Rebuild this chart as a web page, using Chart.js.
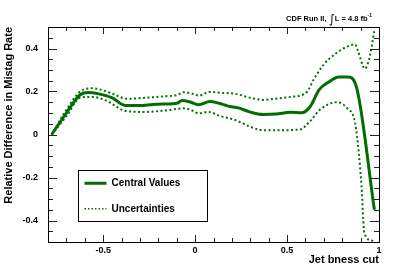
<!DOCTYPE html>
<html>
<head>
<meta charset="utf-8">
<script src="https://cdn.jsdelivr.net/npm/chart.js@4.4.1/dist/chart.umd.min.js"></script>
<style>
  html, body { margin: 0; padding: 0; background: #fff; }
  #wrap { width: 399px; height: 270px; }
</style>
</head>
<body>
<div id="wrap"><canvas id="mistagChart"></canvas></div>
<script>
// values (x = jet bness cut, y = relative difference)
const centralX = [-0.78, -0.7, -0.625, -0.58, -0.53, -0.45, -0.38, -0.3, -0.23, -0.16, -0.1, -0.07, -0.03, 0.02, 0.08, 0.13, 0.18, 0.235, 0.3, 0.37, 0.44, 0.52, 0.58, 0.625, 0.675, 0.725, 0.78, 0.83, 0.875, 0.975];
const centralY = [0, 0.1, 0.185, 0.195, 0.19, 0.17, 0.135, 0.135, 0.14, 0.142, 0.145, 0.158, 0.152, 0.138, 0.153, 0.145, 0.132, 0.124, 0.104, 0.093, 0.095, 0.104, 0.101, 0.129, 0.209, 0.243, 0.268, 0.268, 0.228, -0.35];

const upperX = [-0.78, -0.7, -0.625, -0.56, -0.52, -0.45, -0.37, -0.27, -0.16, -0.1, -0.06, -0.02, 0.02, 0.08, 0.14, 0.22, 0.3, 0.37, 0.45, 0.52, 0.57, 0.61, 0.645, 0.7, 0.77, 0.83, 0.87, 0.885, 0.924, 0.95, 0.975];
const upperY = [0, 0.115, 0.2, 0.215, 0.21, 0.19, 0.166, 0.171, 0.178, 0.183, 0.197, 0.191, 0.181, 0.198, 0.194, 0.189, 0.171, 0.161, 0.168, 0.175, 0.181, 0.2, 0.256, 0.326, 0.38, 0.41, 0.419, 0.39, 0.306, 0.364, 0.485];

const lowerX = [-0.78, -0.7, -0.625, -0.56, -0.49, -0.37, -0.27, -0.16, -0.06, -0.02, 0.02, 0.07, 0.14, 0.22, 0.3, 0.37, 0.45, 0.57, 0.625, 0.68, 0.77, 0.825, 0.87, 0.89, 0.905, 0.92, 0.96, 0.975];
const lowerY = [0, 0.085, 0.171, 0.175, 0.16, 0.108, 0.105, 0.112, 0.122, 0.113, 0.098, 0.105, 0.085, 0.067, 0.036, 0.02, 0.02, 0.023, 0.062, 0.116, 0.15, 0.124, 0.054, -0.085, -0.24, -0.457, -0.493, -0.5];

const xMajor = 0.5, xMinor = 0.1;
const yMajor = 0.2, yMinor = 0.05;

const green = 'rgb(0,110,0)';
const FONT = '"Liberation Sans", Arial, Helvetica, sans-serif';

function pts(xs, ys) {
    return xs.map((x, i) => ({ x: x, y: ys[i] }));
}

// only label the multiples of the major step, like ROOT does
function majorTicks(step) {
    return s => {
        const out = [];
        for (let k = Math.ceil(s.min / step - 1e-9); k * step <= s.max + 1e-9; k++) {
            out.push({ value: +(k * step).toFixed(6) });
        }
        s.ticks = out;
    };
}

// ROOT style frame with ticks pointing inwards on all four sides
const frameTicks = {
    id: 'frameTicks',
    afterDatasetsDraw(chart) {
        const { ctx, chartArea: a, scales: { x, y } } = chart;
        ctx.save();
        ctx.strokeStyle = '#222';
        ctx.lineWidth = 1;
        ctx.beginPath();
        const nx = Math.round((x.max - x.min) / xMinor);
        for (let i = 0; i <= nx; i++) {
            const v = x.min + i * xMinor;
            const big = Math.abs(v / xMajor - Math.round(v / xMajor)) < 1e-6;
            const len = big ? 7 : 4;
            const px = Math.round(x.getPixelForValue(v)) + 0.5;
            ctx.moveTo(px, a.bottom); ctx.lineTo(px, a.bottom - len);
            ctx.moveTo(px, a.top); ctx.lineTo(px, a.top + len);
        }
        const ny = Math.round((y.max - y.min) / yMinor);
        for (let i = 0; i <= ny; i++) {
            const v = y.min + i * yMinor;
            const big = Math.abs(v / yMajor - Math.round(v / yMajor)) < 1e-6;
            const len = big ? 9 : 5;
            const py = Math.round(y.getPixelForValue(v)) + 0.5;
            ctx.moveTo(a.left, py); ctx.lineTo(a.left + len, py);
            ctx.moveTo(a.right, py); ctx.lineTo(a.right - len, py);
        }
        ctx.stroke();
        ctx.strokeStyle = '#000';
        ctx.strokeRect(Math.round(a.left) + 0.5, Math.round(a.top) + 0.5,
            Math.round(a.right - a.left), Math.round(a.bottom - a.top));
        ctx.restore();
    }
};

// legend box inside the frame, placed in axis units
const boxLegend = {
    id: 'boxLegend',
    afterDraw(chart, args, opts) {
        const { ctx, scales: { x, y } } = chart;
        const l = Math.round(x.getPixelForValue(opts.x0)) + 0.5;
        const r = Math.round(x.getPixelForValue(opts.x1)) + 0.5;
        const t = Math.round(y.getPixelForValue(opts.y1)) + 0.5;
        const b = Math.round(y.getPixelForValue(opts.y0)) + 0.5;
        ctx.save();
        ctx.fillStyle = '#fff';
        ctx.fillRect(l, t, r - l, b - t);
        ctx.strokeStyle = '#000';
        ctx.lineWidth = 1;
        ctx.strokeRect(l, t, r - l, b - t);
        const rows = [chart.data.datasets[0], chart.data.datasets[1]];
        const step = (b - t) / rows.length;
        rows.forEach((ds, i) => {
            const cy = t + step * (i + 0.5);
            ctx.beginPath();
            ctx.strokeStyle = ds.borderColor;
            ctx.lineWidth = i === 0 ? 3 : 1.5;
            ctx.setLineDash(i === 0 ? [] : [1.5, 2]);
            ctx.moveTo(l + 6, cy);
            ctx.lineTo(l + 28, cy);
            ctx.stroke();
            ctx.setLineDash([]);
            ctx.fillStyle = '#000';
            ctx.font = 'bold 10px ' + FONT;
            ctx.textBaseline = 'middle';
            ctx.textAlign = 'left';
            ctx.fillText(ds.label, l + 33, cy);
        });
        ctx.restore();
    }
};

// "CDF Run II, ∫L = 4.8 fb-1" above the frame, right side
const lumiLabel = {
    id: 'lumiLabel',
    afterDraw(chart) {
        const { ctx, chartArea: a } = chart;
        ctx.save();
        ctx.fillStyle = '#000';
        ctx.textBaseline = 'alphabetic';
        ctx.textAlign = 'left';
        const base = a.top - 6;
        const parts = [
            { t: 'CDF Run II, ', f: 'bold 7.5px ' + FONT, dy: 0 },
            { t: '\u222B', f: '12px "DejaVu Sans", sans-serif', dy: 2 },
            { t: 'L = 4.8 fb', f: 'bold 7.5px ' + FONT, dy: 0 },
            { t: '-1', f: 'bold 5px ' + FONT, dy: -4 }
        ];
        let w = 0;
        parts.forEach(p => { ctx.font = p.f; w += ctx.measureText(p.t).width; });
        let xp = a.right - 7 - w;
        parts.forEach(p => {
            ctx.font = p.f;
            ctx.fillText(p.t, xp, base + p.dy);
            xp += ctx.measureText(p.t).width;
        });
        ctx.restore();
    }
};

const fmt = v => String(+Number(v).toFixed(1));

const dotted = { borderColor: green, borderWidth: 2, borderDash: [2, 2.5], cubicInterpolationMode: 'monotone' };

new Chart('mistagChart', {
    type: 'line',
    data: {
        datasets: [
            { label: 'Central Values', data: pts(centralX, centralY), borderColor: green, borderWidth: 3, cubicInterpolationMode: 'monotone' },
            Object.assign({ label: 'Uncertainties', data: pts(upperX, upperY) }, dotted),
            Object.assign({ label: 'Uncertainties', data: pts(lowerX, lowerY) }, dotted)
        ]
    },
    options: {
        responsive: true,
        maintainAspectRatio: false,
        animation: false,
        elements: { point: { radius: 0 } },
        layout: { padding: { top: 27, right: 20, left: 0, bottom: 0 } },
        plugins: {
            legend: { display: false },
            tooltip: { enabled: false },
            boxLegend: { x0: -0.635, x1: 0.065, y0: -0.4, y1: -0.167 }
        },
        scales: {
            x: {
                type: 'linear',
                min: -0.8,
                max: 1,
                grid: { display: false, drawTicks: false },
                border: { display: false },
                afterBuildTicks: majorTicks(xMajor),
                ticks: {
                    maxRotation: 0,
                    padding: 3,
                    color: '#000',
                    font: { family: FONT, size: 9, weight: 'bold' },
                    callback: fmt
                },
                title: {
                    display: true,
                    text: 'Jet bness cut',
                    align: 'end',
                    color: '#000',
                    font: { family: FONT, size: 11, weight: 'bold' },
                    padding: { top: 0, bottom: 3 }
                },
                afterFit: s => { s.height = 28; }
            },
            y: {
                min: -0.5,
                max: 0.5,
                grid: { display: false, drawTicks: false },
                border: { display: false },
                afterBuildTicks: majorTicks(yMajor),
                ticks: {
                    padding: 10,
                    color: '#000',
                    font: { family: FONT, size: 9, weight: 'bold' },
                    callback: fmt
                },
                title: {
                    display: true,
                    text: 'Relative Difference in Mistag Rate',
                    align: 'end',
                    color: '#000',
                    font: { family: FONT, size: 11, weight: 'bold' },
                    padding: { top: 2, bottom: 0 }
                },
                afterFit: s => { s.width = 48; }
            }
        }
    },
    plugins: [frameTicks, boxLegend, lumiLabel]
});
</script>
</body>
</html>
